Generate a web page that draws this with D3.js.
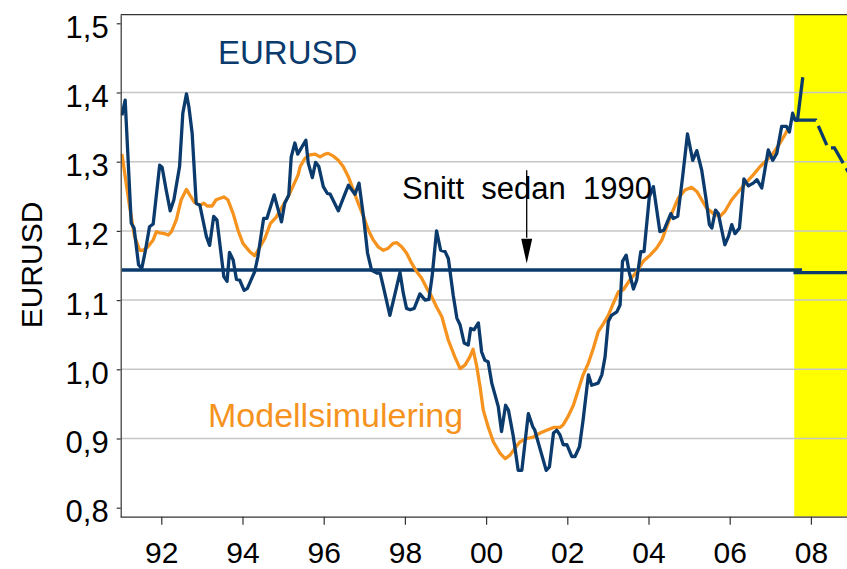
<!DOCTYPE html>
<html>
<head>
<meta charset="utf-8">
<script src="https://cdn.jsdelivr.net/npm/d3@7"></script>
<style>
  body { margin: 0; background: #fff; }
  text { font-family: "Liberation Sans", Arial, sans-serif; }
</style>
</head>
<body>
<script>
// EURUSD, monthly-ish readings (decimal year)
const eurT = [1991.03,1991.11,1991.26,1991.33,1991.44,1991.52,1991.61,1991.71,1991.80,1991.96,
  1992.02,1992.12,1992.22,1992.31,1992.45,1992.53,1992.62,1992.68,1992.76,1992.86,
  1992.95,1993.11,1993.19,1993.29,1993.37,1993.54,1993.62,1993.68,1993.77,1993.85,
  1993.93,1994.04,1994.12,1994.30,1994.38,1994.52,1994.60,1994.78,1994.96,1995.04,
  1995.14,1995.20,1995.29,1995.36,1995.56,1995.62,1995.72,1995.80,1995.88,1995.99,
  1996.09,1996.16,1996.36,1996.48,1996.61,1996.77,1996.87,1996.98,1997.08,1997.18,
  1997.31,1997.39,1997.47,1997.63,1997.76,1997.88,1997.96,1998.04,1998.13,1998.23,
  1998.37,1998.50,1998.59,1998.67,1998.78,1998.88,1998.99,1999.07,1999.19,1999.28,
  1999.36,1999.46,1999.56,1999.62,1999.70,1999.81,1999.89,1999.97,2000.05,2000.14,
  2000.30,2000.38,2000.48,2000.55,2000.67,2000.79,2000.88,2001.04,2001.15,2001.20,
  2001.29,2001.48,2001.56,2001.66,2001.74,2001.82,2001.90,2001.99,2002.11,2002.19,
  2002.30,2002.39,2002.52,2002.60,2002.76,2002.85,2002.93,2003.01,2003.09,2003.22,
  2003.30,2003.36,2003.45,2003.53,2003.63,2003.71,2003.81,2003.89,2004.02,2004.12,
  2004.28,2004.38,2004.55,2004.61,2004.72,2004.84,2004.96,2005.09,2005.19,2005.31,
  2005.42,2005.50,2005.56,2005.65,2005.72,2005.88,2005.97,2006.05,2006.13,2006.24,
  2006.35,2006.46,2006.58,2006.67,2006.79,2006.95,2007.06,2007.16,2007.28,2007.40,
  2007.47,2007.55,2007.61,2007.67,2007.80];
const eurV = [1.367,1.389,1.211,1.204,1.151,1.146,1.172,1.206,1.210,1.295,
  1.292,1.259,1.229,1.245,1.293,1.370,1.398,1.379,1.341,1.240,
  1.237,1.192,1.179,1.221,1.216,1.134,1.127,1.169,1.158,1.130,
  1.129,1.114,1.117,1.141,1.163,1.218,1.218,1.252,1.213,1.240,
  1.252,1.307,1.327,1.311,1.331,1.298,1.277,1.299,1.293,1.264,
  1.254,1.253,1.229,1.247,1.266,1.253,1.269,1.221,1.168,1.143,
  1.139,1.139,1.119,1.078,1.110,1.140,1.110,1.088,1.086,1.088,
  1.109,1.100,1.101,1.134,1.200,1.172,1.170,1.160,1.107,1.074,
  1.064,1.038,1.035,1.059,1.057,1.067,1.025,1.013,1.011,0.980,
  0.946,0.910,0.948,0.941,0.903,0.854,0.854,0.936,0.917,0.912,
  0.893,0.854,0.859,0.908,0.912,0.905,0.891,0.891,0.874,0.874,
  0.888,0.927,0.992,0.977,0.980,0.992,1.018,1.069,1.078,1.083,
  1.093,1.156,1.165,1.139,1.116,1.129,1.170,1.170,1.249,1.264,
  1.199,1.201,1.225,1.218,1.221,1.278,1.340,1.302,1.316,1.288,
  1.245,1.209,1.204,1.230,1.225,1.180,1.192,1.209,1.196,1.204,
  1.275,1.265,1.269,1.274,1.262,1.317,1.302,1.312,1.351,1.351,
  1.343,1.370,1.360,1.360,1.422];

// Modellsimulering
const modT = [1991.03,1991.22,1991.34,1991.47,1991.55,1991.67,1991.80,1991.88,1991.96,1992.08,
  1992.17,1992.25,1992.37,1992.49,1992.62,1992.70,1992.82,1992.95,1993.05,1993.13,
  1993.25,1993.35,1993.54,1993.64,1993.77,1993.89,1994.01,1994.18,1994.30,1994.38,
  1994.55,1994.69,1994.83,1994.96,1995.12,1995.24,1995.37,1995.42,1995.54,1995.66,
  1995.79,1995.91,1996.03,1996.11,1996.24,1996.36,1996.48,1996.61,1996.73,1996.85,
  1996.98,1997.10,1997.22,1997.34,1997.47,1997.59,1997.71,1997.80,1997.92,1998.04,
  1998.17,1998.29,1998.41,1998.54,1998.66,1998.78,1998.91,1999.07,1999.23,1999.36,
  1999.48,1999.60,1999.68,1999.77,1999.85,1999.93,2000.05,2000.18,2000.34,2000.47,
  2000.59,2000.71,2000.83,2001.00,2001.16,2001.33,2001.49,2001.66,2001.82,2001.90,
  2002.02,2002.15,2002.27,2002.39,2002.52,2002.64,2002.76,2002.89,2003.01,2003.13,
  2003.26,2003.38,2003.54,2003.71,2003.87,2004.04,2004.20,2004.33,2004.45,2004.57,
  2004.73,2004.90,2005.06,2005.19,2005.31,2005.43,2005.60,2005.76,2005.88,2006.05,
  2006.25,2006.42,2006.58,2006.75,2006.91,2007.07,2007.24,2007.36,2007.46];
const modV = [1.311,1.235,1.192,1.172,1.172,1.177,1.187,1.199,1.197,1.196,
  1.194,1.199,1.216,1.245,1.260,1.252,1.241,1.237,1.240,1.236,
  1.236,1.245,1.249,1.245,1.225,1.201,1.182,1.170,1.164,1.172,
  1.189,1.211,1.220,1.233,1.249,1.264,1.281,1.293,1.305,1.310,
  1.311,1.307,1.311,1.312,1.308,1.302,1.293,1.278,1.259,1.240,
  1.221,1.201,1.187,1.177,1.172,1.175,1.182,1.183,1.177,1.168,
  1.153,1.141,1.132,1.117,1.105,1.090,1.076,1.042,1.018,1.001,
  1.006,1.018,1.029,1.004,0.975,0.941,0.917,0.895,0.879,0.871,
  0.876,0.886,0.895,0.900,0.902,0.908,0.912,0.916,0.916,0.920,
  0.932,0.948,0.970,0.992,1.009,1.030,1.054,1.066,1.078,1.095,
  1.112,1.115,1.129,1.141,1.156,1.165,1.175,1.187,1.206,1.225,
  1.247,1.259,1.263,1.257,1.245,1.233,1.225,1.221,1.228,1.245,
  1.259,1.271,1.281,1.293,1.302,1.312,1.327,1.339,1.350];

// prognos (streckad)
const fcT = [2007.61, 2008.12, 2008.42, 2008.58, 2009.0];
const fcV = [1.360, 1.360, 1.320, 1.320, 1.277];

// snitt sedan 1990
const meanT = [1991.03, 2007.78];
const meanV = [1.1435, 1.1435];
const meanFcT = [2007.57, 2009.0];
const meanFcV = [1.1396, 1.1396];

const forecastStart = 2007.59;
const yTicks = [0.8, 0.9, 1.0, 1.1, 1.2, 1.3, 1.4, 1.5];
const gridTicks = [0.9, 1.0, 1.1, 1.2, 1.3, 1.4];
const xTicks = [1992, 1994, 1996, 1998, 2000, 2002, 2004, 2006, 2008];

const width = 847, height = 569;
const blue = '#0b3a6c', orange = '#f5931e';

const svg = d3.select('body').append('svg')
    .attr('width', width)
    .attr('height', height);

const plotLeft = 120.7, plotTop = 14.7, plotBottom = 516.7, plotRight = width;

const x = d3.scaleLinear().domain([1991, 2009]).range([plotLeft, plotLeft + 18 * 40.6]);
const y = d3.scaleLinear().domain([0.787, 1.5124]).range([plotBottom, plotTop]);

svg.append('clipPath').attr('id', 'plotclip')
  .append('rect')
    .attr('x', plotLeft).attr('y', plotTop)
    .attr('width', plotRight - plotLeft).attr('height', plotBottom - plotTop);

const plot = svg.append('g').attr('clip-path', 'url(#plotclip)');

// gul prognosyta
plot.append('rect')
    .attr('x', x(forecastStart))
    .attr('y', plotTop)
    .attr('width', x(2009) - x(forecastStart))
    .attr('height', plotBottom - plotTop)
    .attr('fill', '#ffff00');

// stödlinjer
plot.selectAll('.grid').data(gridTicks).enter().append('line')
    .attr('x1', plotLeft).attr('x2', plotRight)
    .attr('y1', d => y(d)).attr('y2', d => y(d))
    .attr('stroke', '#c6c6c6').attr('stroke-width', 1.5);

const line = d3.line().x(d => x(d[0])).y(d => y(d[1]));
const lw = 3.3;

plot.append('path').datum(d3.zip(meanT, meanV))
    .attr('d', line).attr('fill', 'none').attr('stroke', blue).attr('stroke-width', lw);
plot.append('path').datum(d3.zip(meanFcT, meanFcV))
    .attr('d', line).attr('fill', 'none').attr('stroke', blue).attr('stroke-width', lw);

plot.append('path').datum(d3.zip(modT, modV))
    .attr('d', line).attr('fill', 'none').attr('stroke', orange)
    .attr('stroke-width', lw).attr('stroke-linejoin', 'round');

plot.append('path').datum(d3.zip(eurT, eurV))
    .attr('d', line).attr('fill', 'none').attr('stroke', blue)
    .attr('stroke-width', lw).attr('stroke-linejoin', 'round');

plot.append('path').datum(d3.zip(fcT, fcV))
    .attr('d', line).attr('fill', 'none').attr('stroke', blue)
    .attr('stroke-width', lw).attr('stroke-dasharray', '21,6');

// ram överst
svg.append('line')
    .attr('x1', plotLeft).attr('x2', plotRight)
    .attr('y1', plotTop).attr('y2', plotTop)
    .attr('stroke', '#333').attr('stroke-width', 1.2);

// axlar
const yAxis = d3.axisLeft(y).tickValues(yTicks).tickSize(4).tickSizeOuter(0).tickPadding(8)
    .tickFormat(d => d.toFixed(1).replace('.', ','));
const gy = svg.append('g').attr('transform', `translate(${plotLeft},0)`).call(yAxis);
gy.selectAll('text').attr('dy', null).attr('y', 14)
    .attr('font-size', 31).attr('fill', '#000');

const xAxis = d3.axisBottom(x).tickValues(xTicks).tickSize(8).tickSizeOuter(0)
    .tickFormat(d => String(d).slice(2));
const gx = svg.append('g').attr('transform', `translate(0,${plotBottom})`).call(xAxis);
gx.selectAll('text').attr('dy', null).attr('y', 46)
    .attr('font-size', 30).attr('fill', '#000');

[gx, gy].forEach(g => {
  g.attr('font-family', null);
  g.select('.domain').attr('stroke', '#333').attr('stroke-width', 1.2);
  g.selectAll('.tick line').attr('stroke', '#333').attr('stroke-width', 1.2);
});
gx.select('.domain').attr('d', `M${plotLeft},0.5H${plotRight}`);

// texter
svg.append('text').attr('x', 218).attr('y', 64)
    .attr('font-size', 33).attr('fill', blue).text('EURUSD');

svg.append('text').attr('x', 208).attr('y', 426.5)
    .attr('font-size', 34).attr('fill', orange).text('Modellsimulering');

svg.append('text').attr('x', 402).attr('y', 198.5)
    .attr('font-size', 31).attr('fill', '#000')
    .style('white-space', 'pre').text('Snitt  sedan  1990');

svg.append('text')
    .attr('transform', 'translate(42,265) rotate(-90)')
    .attr('text-anchor', 'middle')
    .attr('font-size', 30).attr('fill', '#000').text('EURUSD');

// pil mot snittlinjen
const ax = x(2001.0);
svg.append('line')
    .attr('x1', ax).attr('x2', ax)
    .attr('y1', y(1.2875)).attr('y2', y(1.19))
    .attr('stroke', '#000').attr('stroke-width', 1.3);
svg.append('path')
    .attr('d', `M${ax - 5.5},${y(1.1885)}L${ax + 5.5},${y(1.1885)}L${ax},${y(1.153)}Z`)
    .attr('fill', '#000');
</script>
</body>
</html>
